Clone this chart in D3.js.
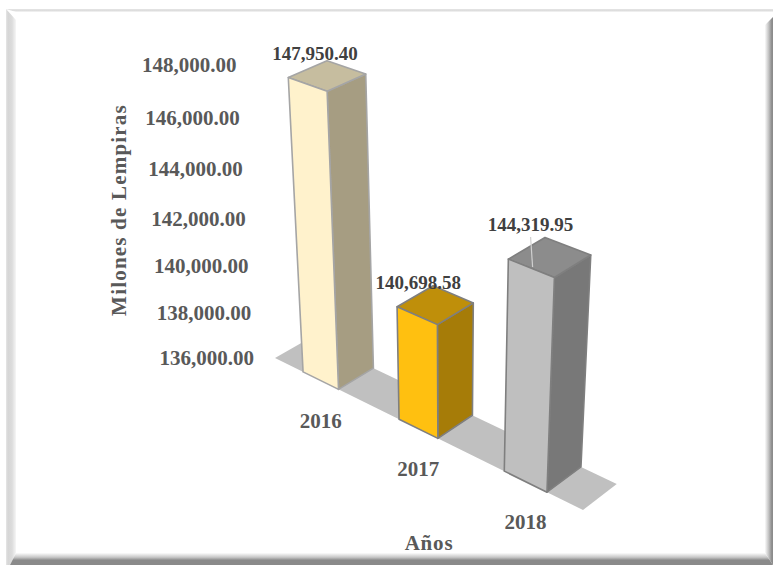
<!DOCTYPE html>
<html lang="es">
<head>
<meta charset="utf-8">
<title>Milones de Lempiras por año</title>
<script src="https://cdn.jsdelivr.net/npm/d3@7/dist/d3.min.js"></script>
<style>
  html, body { margin: 0; padding: 0; background: #fff; }
  svg { display: block; }
  text { font-family: "Liberation Serif", serif; font-weight: bold; }
</style>
</head>
<body>
<svg id="chart" width="773" height="565"></svg>
<script>
// Chart values
const years = ["2016", "2017", "2018"];
const amounts = [147950.40, 140698.58, 144319.95];
const amountLabels = ["147,950.40", "140,698.58", "144,319.95"];
const axisTicks = [136000, 138000, 140000, 142000, 144000, 146000, 148000];
const axisTickLabels = ["136,000.00", "138,000.00", "140,000.00", "142,000.00", "144,000.00", "146,000.00", "148,000.00"];
const frontColors = ["#FFF2CC", "#FFC010", "#BFBFBF"];
const sideColors = ["#A69D82", "#A67C08", "#787878"];
const topColors = ["#C6BD9F", "#BF8F0A", "#8C8C8C"];
const edgeColors = ["#A5A5A5", "#7F7F7F", "#7F7F7F"];

const svg = d3.select("#chart");

// Perspective camera: X runs along the years, Y is the depth of the floor, Z the value.
const camera = {
  origin: [275, 358],
  xEnd: [583, 510],
  xW: -0.13,
  yEnd: [310, 338],
  yW: 0.01835,
  zVanish: [450, 3300],
  zW: -0.0905
};

function project(X, Y, Z) {
  const c = camera;
  const ex = [0, 1].map(i => c.xEnd[i] * (1 + c.xW) - c.origin[i]);
  const ey = [0, 1].map(i => c.yEnd[i] * (1 + c.yW) - c.origin[i]);
  const w = 1 + c.xW * X + c.yW * Y + c.zW * Z;
  return [0, 1].map(i =>
    (c.origin[i] + ex[i] * X + ey[i] * Y + c.zW * c.zVanish[i] * Z) / w);
}

const xScale = d3.scaleBand().domain(years).range([0, 1])
  .paddingInner(0.62).paddingOuter(0.31);
const zScale = d3.scaleLinear().domain([136000, 148000]).range([0, 1]);

const polyPath = pts => "M" + pts.map(p => p.map(v => v.toFixed(2)).join(",")).join("L") + "Z";

// Gradients for the bevelled picture frame
const defs = svg.append("defs");
function ramp(id, x1, y1, x2, y2, stops) {
  const g = defs.append("linearGradient").attr("id", id)
    .attr("gradientUnits", "userSpaceOnUse")
    .attr("x1", x1).attr("y1", y1).attr("x2", x2).attr("y2", y2);
  stops.forEach(([o, c]) => g.append("stop").attr("offset", o).attr("stop-color", c));
}
ramp("bevelLeft", 6, 0, 16, 0, [[0, "#E6E6E6"], [0.2, "#D6D6D6"], [0.6, "#DCDCDC"], [1, "#F6F6F6"]]);
ramp("bevelTop", 0, 9, 0, 12, [[0, "#E4E4E4"], [0.6, "#DCDCDC"], [1, "#FBFBFB"]]);
ramp("bevelRight", 765, 0, 773, 0, [[0, "#FAFAFA"], [0.45, "#C4C4C4"], [0.85, "#8C8C8C"], [1, "#8C8C8C"]]);
ramp("bevelBottom", 0, 553, 0, 565, [[0, "#FCFCFC"], [0.35, "#C8C8C8"], [0.6, "#8A8A8A"], [1, "#8A8A8A"]]);

const frame = svg.append("g").attr("class", "frame");
const bevel = (pts, fill) => frame.append("path").attr("d", polyPath(pts)).attr("fill", fill);
bevel([[6, 9], [773, 9], [773, 12], [16, 12]], "url(#bevelTop)");
bevel([[6, 9], [16, 20], [16, 553], [10, 565], [6, 565]], "url(#bevelLeft)");
bevel([[773, 17], [773, 565], [765, 553], [765, 25]], "url(#bevelRight)");
bevel([[10, 565], [773, 565], [765, 553], [16, 553]], "url(#bevelBottom)");

// Floor of the plot
svg.append("path")
  .attr("class", "floor")
  .attr("fill", "#C0C0C0")
  .attr("d", polyPath([project(0, 0, 0), project(1, 0, 0), project(1, 1, 0), project(0, 1, 0)]));

// Bars, each drawn as side, top and front faces
const bars = svg.append("g").attr("class", "bars")
  .selectAll("g").data(years).join("g");

bars.each(function (year, i) {
  const g = d3.select(this);
  const x0 = xScale(year), x1 = x0 + xScale.bandwidth();
  const z = zScale(amounts[i]);
  const face = (pts, fill) => g.append("path")
    .attr("d", polyPath(pts))
    .attr("fill", fill)
    .attr("stroke", edgeColors[i])
    .attr("stroke-width", 1.6)
    .attr("stroke-linejoin", "round");
  face([project(x1, 0, 0), project(x1, 1, 0), project(x1, 1, z), project(x1, 0, z)], sideColors[i]);
  face([project(x0, 0, z), project(x1, 0, z), project(x1, 1, z), project(x0, 1, z)], topColors[i]);
  face([project(x0, 0, 0), project(x1, 0, 0), project(x1, 0, z), project(x0, 0, z)], frontColors[i]);
});

// Value axis labels, set along the left edge of the floor
svg.append("g").attr("class", "value-axis")
  .selectAll("text").data(axisTicks).join("text")
  .attr("x", d => project(0, 0, zScale(d))[0] - 21)
  .attr("y", d => project(0, 0, zScale(d))[1] + 7)
  .attr("text-anchor", "end")
  .attr("font-size", 21)
  .attr("fill", "#595959")
  .text((d, i) => axisTickLabels[i]);

// Year labels below the front of each bar
svg.append("g").attr("class", "year-axis")
  .selectAll("text").data(years).join("text")
  .attr("x", d => project(xScale(d) + xScale.bandwidth() / 2, 0, 0)[0])
  .attr("y", d => project(xScale(d) + xScale.bandwidth() / 2, 0, 0)[1] + 47)
  .attr("text-anchor", "middle")
  .attr("font-size", 21)
  .attr("fill", "#595959")
  .text(d => d);

// Value labels above the bars, with the leader line for the last one
const labelShift = [[-12, -16], [-17, -16], [-19, -26]];
const topCentre = (d, i) => project(xScale(d) + xScale.bandwidth() / 2, 0.5, zScale(amounts[i]));

const lastAnchor = topCentre(years[2], 2);
svg.append("line")
  .attr("class", "leader")
  .attr("x1", lastAnchor[0] + labelShift[2][0])
  .attr("y1", lastAnchor[1] + labelShift[2][1] + 6)
  .attr("x2", lastAnchor[0] + labelShift[2][0] + 2)
  .attr("y2", lastAnchor[1] + labelShift[2][1] + 36)
  .attr("stroke", "#D0D0D0")
  .attr("stroke-width", 1.2);

svg.append("g").attr("class", "value-labels")
  .selectAll("text").data(years).join("text")
  .attr("x", (d, i) => topCentre(d, i)[0] + labelShift[i][0])
  .attr("y", (d, i) => topCentre(d, i)[1] + labelShift[i][1])
  .attr("text-anchor", "middle")
  .attr("font-size", 19)
  .attr("fill", "#404040")
  .text((d, i) => amountLabels[i]);

// Axis titles
svg.append("text")
  .attr("transform", "translate(126,210) rotate(-90)")
  .attr("text-anchor", "middle")
  .attr("font-size", 21)
  .attr("letter-spacing", 1.2)
  .attr("fill", "#595959")
  .text("Milones de Lempiras");

svg.append("text")
  .attr("x", 429).attr("y", 550)
  .attr("text-anchor", "middle")
  .attr("font-size", 21)
  .attr("letter-spacing", 0.8)
  .attr("fill", "#595959")
  .text("Años");
</script>
</body>
</html>
